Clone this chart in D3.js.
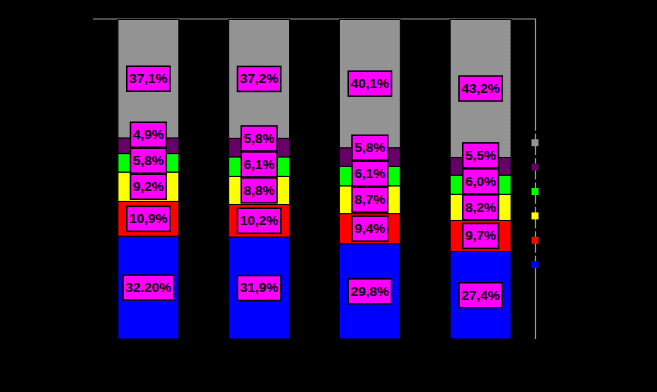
<!DOCTYPE html>
<html>
<head>
<meta charset="utf-8">
<script src="https://cdn.jsdelivr.net/npm/d3@7"></script>
<style>
  html, body { margin: 0; padding: 0; background: #000; }
  svg { display: block; }
</style>
</head>
<body>
<svg id="chart" width="657" height="392"></svg>
<script>
// ---- Data ----
const categories = ["1", "2", "3", "4"];
const seriesNames = ["S1", "S2", "S3", "S4", "S5", "S6"]; // bottom to top
const s1 = [32.2, 31.9, 29.8, 27.4];   // blue
const s2 = [10.9, 10.2, 9.4, 9.7];     // red
const s3 = [9.2, 8.8, 8.7, 8.2];       // yellow
const s4 = [5.8, 6.1, 6.1, 6.0];       // green
const s5 = [4.9, 5.8, 5.8, 5.5];       // purple
const s6 = [37.1, 37.2, 40.1, 43.2];   // gray
const labelOverrides = { "S1|1": "32.20%" };
const colors = ["#0000ff", "#ff0000", "#ffff00", "#00ff00", "#660066", "#939393"];

(function () {
const seriesValues = [s1, s2, s3, s4, s5, s6];
const table = categories.map((c, i) => {
  const row = { cat: c };
  seriesNames.forEach((s, k) => row[s] = seriesValues[k][i]);
  return row;
});

// ---- Layout ----
const svg = d3.select("#chart");
const mLeft = 93, mRight = 536, mTop = 19.5, mBottom = 339;

const x = d3.scaleBand().domain(categories).range([mLeft, mRight])
  .paddingInner(0.45).paddingOuter(0.225);
const y = d3.scaleLinear().domain([0, 1]).range([mBottom, mTop]);
const color = d3.scaleOrdinal().domain(seriesNames).range(colors);

const stacked = d3.stack().keys(seriesNames).offset(d3.stackOffsetExpand)(table);

// plot area border (top and right)
svg.append("path")
  .attr("d", `M${mLeft},${mTop - 0.5}H${mRight - 0.5}V${mBottom}`)
  .attr("fill", "none").attr("stroke", "#9a9a9a").attr("stroke-width", 1.2);

// subtle dotted pattern for gray
const defs = svg.append("defs");
const pat = defs.append("pattern").attr("id", "grayPat").attr("width", 4).attr("height", 4)
  .attr("patternUnits", "userSpaceOnUse");
pat.append("rect").attr("width", 4).attr("height", 4).attr("fill", "#939393");
pat.append("rect").attr("x", 1).attr("y", 1).attr("width", 1).attr("height", 1).attr("fill", "#9a9a9a");

// bars
const layers = svg.append("g").selectAll("g").data(stacked).join("g")
  .attr("fill", d => d.key === "S6" ? "url(#grayPat)" : color(d.key));
layers.selectAll("rect").data(d => d).join("rect")
  .attr("x", d => x(d.data.cat))
  .attr("width", x.bandwidth())
  .attr("y", d => y(d[1]))
  .attr("height", d => y(d[0]) - y(d[1]))
  .attr("stroke", "#000").attr("stroke-width", 1);

// legend (keys on right, text invisible black)
const legendY = d3.scalePoint().domain(seriesNames.slice().reverse()).range([142.7, 264.7]);
const leg = svg.append("g");
seriesNames.forEach(s => {
  leg.append("rect").attr("x", 532).attr("y", legendY(s) - 12).attr("width", 8).attr("height", 3)
    .attr("fill", "#000");
  leg.append("rect").attr("x", 531.5).attr("y", legendY(s) - 3.5).attr("width", 7).attr("height", 7)
    .attr("fill", color(s));
});

// labels
const boxH = 24, gap = 2;
const labelG = svg.append("g")
  .attr("font-family", "'Liberation Sans', Arial, sans-serif")
  .attr("font-size", 13.5).attr("font-weight", "bold");

categories.forEach((c, i) => {
  let prevCy = null;
  stacked.forEach(layer => {
    const d = layer[i];
    let cy = (y(d[0]) + y(d[1])) / 2;
    if (prevCy !== null && cy > prevCy - boxH) {
      cy = prevCy - boxH - gap;
    }
    prevCy = cy;
    const val = seriesValues[seriesNames.indexOf(layer.key)][i];
    const txt = labelOverrides[layer.key + "|" + (i + 1)] ||
      d3.format(".1f")(val).replace(".", ",") + "%";
    const cx = x(c) + x.bandwidth() / 2;
    const g = labelG.append("g");
    const rect = g.append("rect");
    const t = g.append("text").attr("x", cx).attr("y", cy).attr("dy", "0.33em")
      .attr("text-anchor", "middle").attr("fill", "#000").text(txt);
    const w = t.node().getComputedTextLength() + 5;
    rect.attr("x", cx - w / 2).attr("y", cy - boxH / 2 - 0.5).attr("width", w).attr("height", boxH + 1)
      .attr("fill", "#ff00ff").attr("stroke", "#000").attr("stroke-width", 1.5);
  });
});
})();
</script>
</body>
</html>
